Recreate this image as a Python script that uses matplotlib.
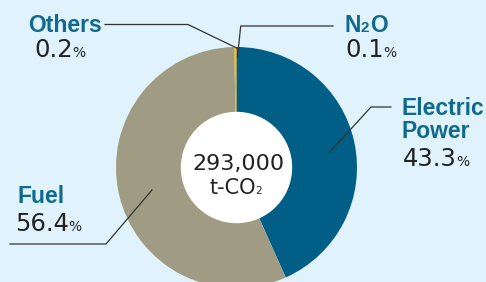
import matplotlib.pyplot as plt
from matplotlib.patches import Circle

# data (clockwise from 12 o'clock)
labels = ["Electric\nPower", "Fuel", "Others", "N\u2082O"]
shares = [43.3, 56.4, 0.2, 0.1]
colors = ["#005e87", "#a09c84", "#f5b400", "#d69a00"]
total_text = "293,000"

H = 282  # picture height, used to flip pixel y to axis y
bg = "#e0f2fc"
blue = "#0f6a8e"
dark = "#222222"

fig = plt.figure(figsize=(4.86, 2.82), dpi=100, facecolor=bg)
ax = fig.add_axes([0, 0, 1, 1])
ax.set_facecolor(bg)

cx, cy, r = 236.5, H - 167.5, 120.5
ax.pie(shares, colors=colors, startangle=90, counterclock=False,
       center=(cx, cy), radius=r, wedgeprops=dict(linewidth=0))
ax.add_patch(Circle((cx, cy), 55, color="white", zorder=3))

ax.set_xlim(0, 486)
ax.set_ylim(0, H)
ax.set_aspect("equal")
ax.axis("off")

num_font = dict(family=["DejaVu Sans"], color=dark)
name_font = dict(family=["Liberation Sans", "DejaVu Sans"], weight="bold", color=blue)
renderer = fig.canvas.get_renderer()


def after(t):
    # x just to the right of a drawn text, in data units (1 unit = 1 px)
    return ax.transData.inverted().transform(t.get_window_extent(renderer))[1][0]


def value(x, y, val):
    t = ax.text(x, H - y, val, fontsize=17.5, va="baseline", **num_font)
    ax.text(after(t) - 0.5, H - y, "%", fontsize=10, va="baseline", **num_font)


def name(x, y, s):
    return ax.text(x, H - y, s, fontsize=16.5, va="baseline", **name_font)


name(28, 32, labels[2])
value(34, 57, f"{shares[2]}")
t = name(344, 32, "N")
t = ax.text(after(t) + 0.5, H - 32, "2", fontsize=11, va="baseline", **name_font)
ax.text(after(t) + 0.5, H - 32, "O", fontsize=16.5, va="baseline", **name_font)
value(345, 57, f"{shares[3]}")
name(401, 115, "Electric")
name(401, 138, "Power")
value(403, 166, f"{shares[0]}")
name(17, 203, labels[1])
value(15, 231, f"{shares[1]}")

# leader lines
lk = dict(color="#333333", lw=0.9, zorder=4)
ax.plot([105, 188, 236.7], [H - 24.5, H - 24.5, H - 48], **lk)
ax.plot([333, 240.7, 237.5], [H - 26, H - 26, H - 57], **lk)
ax.plot([391, 371, 329], [H - 107, H - 107, H - 153], **lk)
ax.plot([10, 106, 152], [H - 244, H - 244, H - 190], **lk)

# centre total
ax.text(cx + 2, H - 170, total_text, fontsize=16, ha="center", va="baseline", zorder=5, **num_font)
t = ax.text(cx - 4, H - 194, "t-CO", fontsize=15, ha="center", va="baseline", zorder=5, **num_font)
ax.text(after(t) - 0.5, H - 194, "2", fontsize=7.5, ha="left", va="baseline", zorder=5, **num_font)

fig.savefig("out.png", dpi=100, facecolor=bg)
